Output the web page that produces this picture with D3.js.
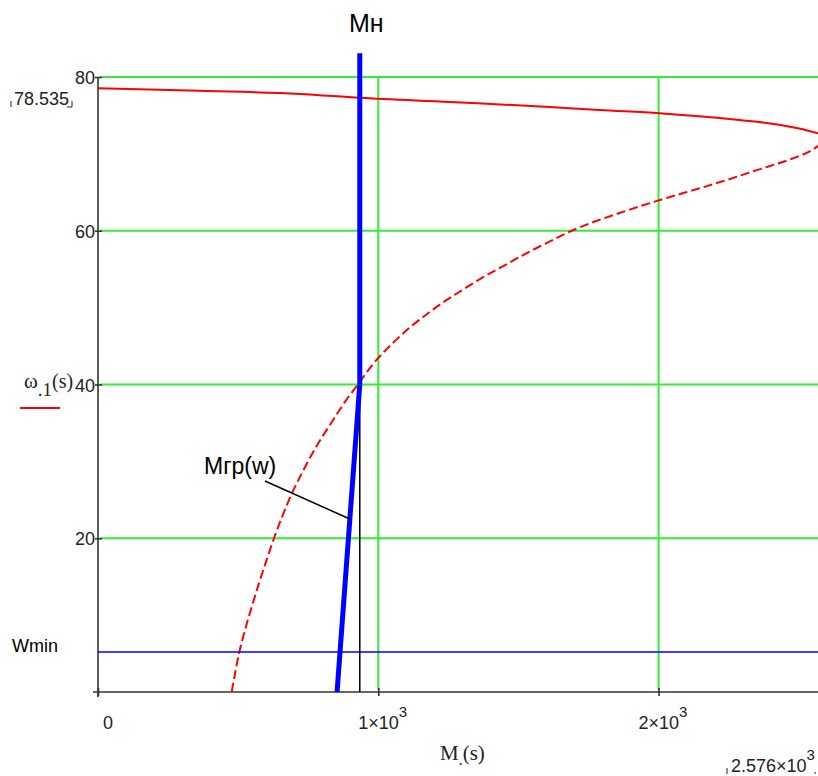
<!DOCTYPE html>
<html>
<head>
<meta charset="utf-8">
<script src="https://cdn.jsdelivr.net/npm/d3@7/dist/d3.min.js"></script>
<style>
  html, body { margin: 0; padding: 0; background: #fff; }
  svg { display: block; }
</style>
</head>
<body>
<svg id="chart" width="818" height="776"></svg>
<script>
// ---- data ----
const xTicks = [0, 1000, 2000];
const xTickMant = ["0", "1", "2"];
const yTicks = [20, 40, 60, 80];
const xMax = 2576;
const yMax = 80;
const wTop = 78.535;

// stable (solid) branch of the characteristic  M(s), ω(s)
const upperM = [0, 363, 720, 934, 1254, 1611, 1789, 2003, 2145, 2288, 2430, 2502, 2576];
const upperW = [78.535, 78.2, 77.8, 77.3, 76.75, 76.1, 75.7, 75.3, 74.9, 74.4, 73.8, 73.3, 72.6];

// unstable (dashed) branch
const lowerM = [477, 492, 503, 524, 548, 573, 600, 628, 659, 694, 735, 780, 832, 886, 927, 982, 1052, 1112, 1175, 1244, 1309, 1376, 1446, 1525, 1595, 1690, 1780, 1860, 1935, 2005, 2088, 2172, 2243, 2318, 2395, 2478, 2548, 2576];
const lowerW = [0, 3, 5, 8, 11, 14, 17, 20, 23, 26, 29, 32, 35, 38, 40, 42.7, 45.4, 47.4, 49.2, 51.0, 52.5, 54.0, 55.4, 57.0, 58.3, 60.0, 61.3, 62.3, 63.2, 64.0, 64.9, 65.8, 66.6, 67.5, 68.4, 69.4, 70.5, 71.2];

// Mгр(w) line and Mн line
const mgrM = [853, 934];
const mgrW = [0, 40];
const mnM = [934, 934];
const mnW = [40, 83.1];
const dropM = [934, 934];
const dropW = [0, 40];
const wMin = 5.2;
const leaderW = 22.5;

// ---- layout ----
const svg = d3.select("#chart");
const x = d3.scaleLinear().domain([0, xMax]).range([98, 820]);
const y = d3.scaleLinear().domain([0, yMax]).range([692, 77]);

const gridColor = "#33ee33";
// grid
svg.append("g").selectAll("line.h").data(yTicks).join("line")
  .attr("x1", x(0) + 2).attr("x2", x(xMax))
  .attr("y1", d => y(d)).attr("y2", d => y(d))
  .attr("stroke", gridColor).attr("stroke-width", 2);
svg.append("g").selectAll("line.v").data(xTicks.filter(d => d > 0)).join("line")
  .attr("x1", d => x(d)).attr("x2", d => x(d))
  .attr("y1", y(yMax)).attr("y2", y(0) - 2)
  .attr("stroke", gridColor).attr("stroke-width", 2);

// axes lines
const axisColor = "#333";
svg.append("line").attr("x1", x(0)).attr("x2", x(0)).attr("y1", y(yMax)).attr("y2", y(0) + 5)
  .attr("stroke", axisColor).attr("stroke-width", 1.6);
svg.append("line").attr("x1", x(0) - 5).attr("x2", x(xMax)).attr("y1", y(0)).attr("y2", y(0))
  .attr("stroke", axisColor).attr("stroke-width", 1.6);

// ticks via d3 axes
const xAxis = d3.axisBottom(x).tickValues(xTicks).tickSize(8).tickSizeOuter(0).tickFormat("");
const gx = svg.append("g").attr("transform", `translate(0,${y(0) - 4})`).call(xAxis);
gx.select(".domain").remove();
gx.selectAll(".tick line").attr("stroke", axisColor).attr("stroke-width", 1.6);

const yAxis = d3.axisLeft(y).tickValues(yTicks).tickSize(7).tickSizeOuter(0).tickFormat("");
const gy = svg.append("g").attr("transform", `translate(${x(0) + 4},0)`).call(yAxis);
gy.select(".domain").remove();
gy.selectAll(".tick line").attr("stroke", axisColor).attr("stroke-width", 1.6);

// y tick labels
const tickFont = "Liberation Sans, Arial, sans-serif";
svg.append("g").selectAll("text").data(yTicks).join("text")
  .attr("x", x(0) - 3).attr("y", d => y(d) + 7)
  .attr("text-anchor", "end")
  .attr("font-family", tickFont).attr("font-size", 18).attr("fill", "#222")
  .text(d => d);

// x tick labels
xTicks.forEach((v, i) => {
  const t = svg.append("text")
    .attr("x", v === 0 ? x(v) + 5 : x(v) - 20)
    .attr("y", 729)
    .attr("font-family", tickFont).attr("font-size", 18).attr("fill", "#222");
  if (v === 0) {
    t.text("0");
  } else {
    t.append("tspan").text(xTickMant[i] + "×10");
    t.append("tspan").attr("dy", -12).attr("font-size", 15).text("3");
  }
});

// limit labels
svg.append("text").attr("x", 14).attr("y", 105)
  .attr("font-family", tickFont).attr("font-size", 18).attr("fill", "#222").text(String(wTop));
svg.append("path").attr("d", "M11,101 L11,107 M72,101 L72,107 L67,107")
  .attr("stroke", "#222").attr("fill", "none").attr("stroke-width", 1);
const lim = svg.append("text").attr("x", 731).attr("y", 772)
  .attr("font-family", tickFont).attr("font-size", 18).attr("fill", "#222");
lim.append("tspan").text("2.576×10");
lim.append("tspan").attr("dy", -12).attr("font-size", 15).text("3");
svg.append("path").attr("d", "M727,768 L727,774 M815,772 L815,774")
  .attr("stroke", "#222").attr("fill", "none").attr("stroke-width", 1);

// axis titles
const serif = "Liberation Serif, Times New Roman, serif";
const mt = svg.append("text").attr("x", 440).attr("y", 760)
  .attr("font-family", serif).attr("font-size", 21).attr("fill", "#222");
mt.append("tspan").text("M");
mt.append("tspan").attr("dy", 5).attr("font-size", 16).text(".");
mt.append("tspan").attr("dy", -5).text("(s)");

const wt = svg.append("text").attr("x", 24).attr("y", 388)
  .attr("font-family", serif).attr("font-size", 21).attr("fill", "#222");
wt.append("tspan").text("ω");
wt.append("tspan").attr("dy", 8).attr("font-size", 19).text(".1");
wt.append("tspan").attr("dy", -8).attr("font-size", 20).text("(s)");
svg.append("line").attr("x1", 20).attr("x2", 60).attr("y1", 408).attr("y2", 408)
  .attr("stroke", "#ff0000").attr("stroke-width", 2);

// curves
const line = d3.line().x(d => x(d[0])).y(d => y(d[1])).curve(d3.curveMonotoneX);
svg.append("path").datum(d3.zip(upperM, upperW))
  .attr("d", line).attr("fill", "none").attr("stroke", "#ff0000").attr("stroke-width", 2);
svg.append("path").datum(d3.zip(lowerM, lowerW))
  .attr("d", line).attr("fill", "none").attr("stroke", "#ff0000").attr("stroke-width", 2)
  .attr("stroke-dasharray", "9,4");

// Wmin line
svg.append("line").attr("x1", x(0)).attr("x2", x(xMax)).attr("y1", y(wMin)).attr("y2", y(wMin))
  .attr("stroke", "#0000ff").attr("stroke-width", 1.5);
svg.append("text").attr("x", 12).attr("y", 652)
  .attr("font-family", tickFont).attr("font-size", 18).attr("fill", "#000").text("Wmin");

// drop line
const sl = d3.line().x(d => x(d[0])).y(d => y(d[1]));
svg.append("path").datum(d3.zip(dropM, dropW)).attr("d", sl)
  .attr("stroke", "#000").attr("stroke-width", 1.5).attr("fill", "none");

// Mгр(w) and Mн
svg.append("path").datum(d3.zip(mgrM, mgrW)).attr("d", sl)
  .attr("stroke", "#0000ff").attr("stroke-width", 5).attr("fill", "none");
svg.append("path").datum(d3.zip(mnM, mnW)).attr("d", sl)
  .attr("stroke", "#0000ff").attr("stroke-width", 5).attr("fill", "none");

svg.append("text").attr("x", 349).attr("y", 32)
  .attr("font-family", tickFont).attr("font-size", 25).attr("fill", "#000").text("Mн");

// leader for Mгр(w)
const leadM = mgrM[0] + (mgrM[1] - mgrM[0]) * leaderW / mgrW[1];
svg.append("line").attr("x1", 265).attr("y1", 481).attr("x2", x(leadM)).attr("y2", y(leaderW))
  .attr("stroke", "#000").attr("stroke-width", 1.5);
svg.append("text").attr("x", 204).attr("y", 474)
  .attr("font-family", tickFont).attr("font-size", 23).attr("fill", "#000").text("Mгр(w)");
</script>
</body>
</html>
